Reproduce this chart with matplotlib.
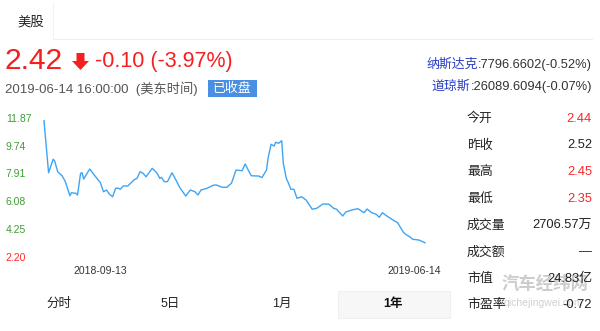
import numpy as np
import matplotlib
matplotlib.use("Agg")
import matplotlib.pyplot as plt
from matplotlib.patches import Rectangle, Polygon

plt.rcParams['font.family'] = ['Liberation Sans', 'Noto Sans CJK SC', 'DejaVu Sans']

# ---------------- data ----------------
days = [0, 3, 6, 7, 9, 12, 14, 17, 18, 21, 22, 24, 25, 26, 30, 33, 37, 39, 41, 43,
        45, 47, 49, 50, 52, 55, 59, 61, 63, 65, 67, 71, 74, 76, 77, 79, 81, 84, 86, 89,
        93, 96, 99, 101, 103, 107, 111, 113, 117, 120, 123, 126, 130, 132, 134, 136, 141, 143, 146, 147,
        149, 151, 152, 154, 156, 157, 159, 160, 162, 164, 166, 169, 172, 176, 179, 183, 187, 190, 192, 196,
        198, 202, 206, 210, 212, 215, 218, 220, 222, 225, 229, 232, 236, 238, 240, 242, 246, 250]
prices = [11.66, 8.04, 8.98, 8.86, 8.11, 7.81, 7.42, 6.44, 6.65, 6.61, 6.49, 8.00, 8.04, 7.60, 8.30, 7.88, 7.35, 6.72, 6.84, 6.54,
          6.37, 6.96, 6.96, 6.89, 7.12, 7.12, 7.54, 7.65, 8.11, 8.00, 7.76, 8.35, 8.04, 7.65, 7.72, 7.42, 7.42, 8.04, 7.65, 7.03,
          6.42, 6.84, 6.72, 6.49, 6.84, 6.96, 7.17, 7.19, 7.03, 7.03, 7.31, 8.23, 8.18, 8.65, 8.23, 7.83, 7.81, 7.70, 8.23, 9.04,
          10.02, 9.90, 10.16, 10.09, 10.27, 8.70, 7.65, 7.42, 6.89, 6.89, 6.26, 6.37, 6.14, 5.50, 5.57, 5.87, 5.85, 5.57, 5.50, 5.03,
          5.31, 5.45, 5.54, 5.26, 5.52, 5.26, 5.15, 4.94, 5.26, 5.03, 4.75, 4.57, 3.87, 3.71, 3.59, 3.41, 3.36, 3.17]
ytick_labels = ["2.20", "4.25", "6.08", "7.91", "9.74", "11.87"]
xtick_days = [37, 243]
xtick_labels = ["2018-09-13", "2019-06-14"]

stat_names = ["今开", "昨收", "最高", "最低", "成交量", "成交额", "市值", "市盈率"]
stat_values = ["2.44", "2.52", "2.45", "2.35", "2706.57万", "—", "24.83亿", "-0.72"]
stat_colors = ["#f52a2a", "#222222", "#f52a2a", "#f52a2a", "#222222", "#222222", "#222222", "#222222"]

tabs = ["分时", "5日", "1月", "1年"]

W, H = 600, 331
fig = plt.figure(figsize=(W / 100, H / 100), dpi=100)

# background pixel-coordinate axes for layout
bg = fig.add_axes([0, 0, 1, 1])
bg.set_xlim(0, W)
bg.set_ylim(H, 0)
bg.axis('off')

RED = "#f51f1f"
DARK = "#333333"

# tab header
bg.plot([53, 592], [39, 39], color="#eeeeee", lw=0.8)
bg.plot([53, 53], [3, 39], color="#f2f2f2", lw=0.8)
bg.text(17, 22.5, "美股", fontsize=9.6, color="#222222", va='center', ha='left')

# price line
bg.text(4, 61, "2.42", fontsize=21.5, color=RED, va='center', ha='left')
bg.add_patch(Polygon([[76.5, 53], [84.5, 53], [84.5, 61], [89, 61], [80.5, 70], [72, 61], [76.5, 61]],
                     closed=True, color=RED, lw=0))
bg.text(95, 62, "-0.10 (-3.97%)", fontsize=15.5, color=RED, va='center', ha='left')

bg.text(5, 88.5, "2019-06-14 16:00:00  (美东时间)", fontsize=9.5, color="#555555", va='center', ha='left')
bg.add_patch(Rectangle((208, 80), 49, 17, color="#4a90e2", lw=0))
bg.text(232.5, 88.5, "已收盘", fontsize=9.3, color="white", va='center', ha='center')

# index quotes
t1 = bg.text(592, 65, ":7796.6602(-0.52%)", fontsize=9.3, color=DARK, va='center', ha='right')
bg.annotate("纳斯达克", xy=(0, 0.5), xycoords=t1, fontsize=9.3, color="#2b3fc4", va='center', ha='right')
t2 = bg.text(592, 87, ":26089.6094(-0.07%)", fontsize=9.3, color=DARK, va='center', ha='right')
bg.annotate("道琼斯", xy=(0, 0.5), xycoords=t2, fontsize=9.3, color="#2b3fc4", va='center', ha='right')

# watermark (behind the stats)
bg.text(545, 283, "汽车经纬网", fontsize=12.5, color="#c4c4c4", fontweight='bold',
        va='center', ha='center', alpha=0.85, zorder=1)
bg.text(543, 303, "qichejingwei.com", fontsize=7.5, color="#c8c8c8", va='center', ha='center',
        alpha=0.85, zorder=1)

# stats panel
row_y = [119, 145.5, 172, 198.5, 225.5, 252.5, 279, 305]
for name, val, col, yy in zip(stat_names, stat_values, stat_colors, row_y):
    bg.text(467, yy, name, fontsize=9.3, color="#222222", va='center', ha='left', zorder=3)
    bg.text(592, yy, val, fontsize=9.3, color=col, va='center', ha='right', zorder=3)

# bottom tabs
bg.add_patch(Rectangle((338, 291), 112, 27, facecolor="#f7f7f7", edgecolor="#eeeeee", lw=0.6))
for label, xx in zip(tabs, [59, 170, 282, 393]):
    bg.text(xx, 304, label, fontsize=9, color="#222222" if label != "1年" else "#111111",
            fontweight='bold' if label == "1年" else 'normal', va='center', ha='center')

# chart axes: x 44..425 px, y 117.7..256.7 px
ax = fig.add_axes([44 / W, 1 - 256.7 / H, (425 - 44) / W, (256.7 - 117.7) / H])
ax.patch.set_alpha(0)
ax.plot(days, prices, color="#3da5f4", lw=1.0, clip_on=False)
ax.set_xlim(0, 250)
ax.set_ylim(2.20, 11.87)
for s in ax.spines.values():
    s.set_visible(False)
yt = np.linspace(2.20, 11.87, 6)
ax.set_yticks(yt)
ax.set_yticklabels(ytick_labels)
ax.tick_params(axis='y', length=0, pad=27.5, labelsize=7.5)
for lab, txt in zip(ax.get_yticklabels(), ytick_labels):
    lab.set_ha('left')
    lab.set_color("#ff2a2a" if txt == "2.20" else "#3f9c35")
ax.set_xticks(xtick_days)
ax.set_xticklabels(xtick_labels)
ax.tick_params(axis='x', length=0, pad=6.5, labelsize=7.5, labelcolor=DARK)

fig.savefig("out.png", dpi=100)
